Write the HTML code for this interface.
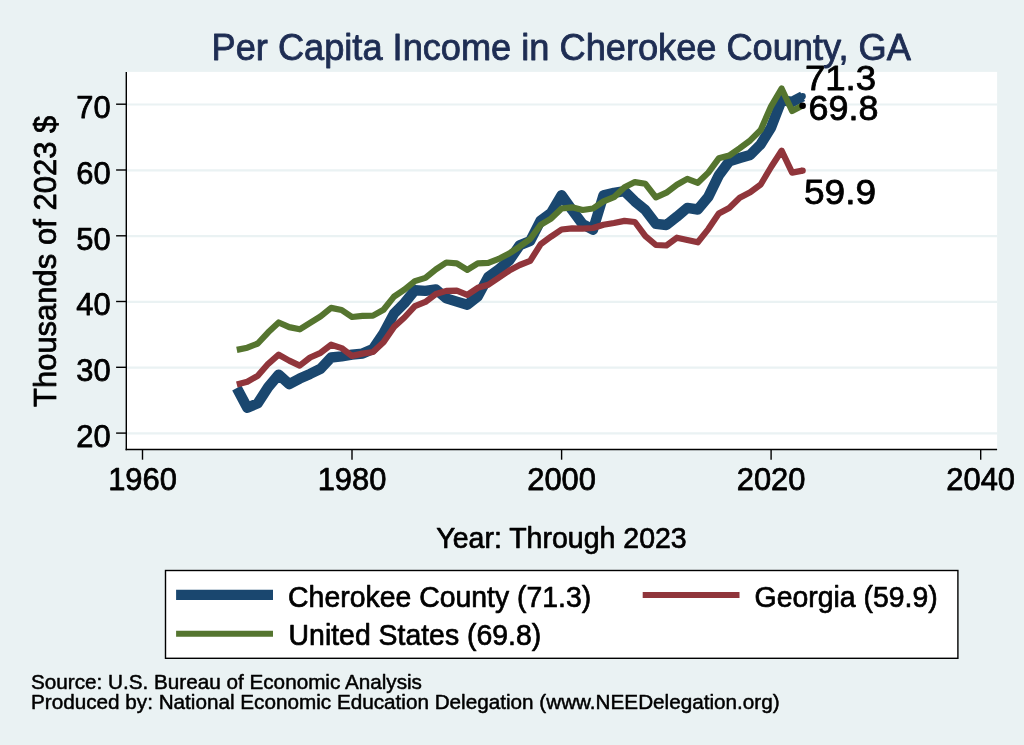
<!DOCTYPE html>
<html lang="en"><head><meta charset="utf-8"><title>Per Capita Income in Cherokee County, GA</title>
<style>
html,body{margin:0;padding:0;background:#eaf2f3;}
body{width:1024px;height:745px;overflow:hidden;}
svg{display:block;will-change:transform;}
text{font-family:"Liberation Sans",Arial,Helvetica,sans-serif;fill:#000;stroke:#000;stroke-width:0.75px;stroke-linejoin:round;}
.t{fill:#1e2d53;stroke:#1e2d53;stroke-width:0.85px;}
.m{stroke-width:0.8px;}
.n{stroke-width:0.5px;}
.l{stroke-width:0.7px;}
</style></head><body>
<svg width="1024" height="745" viewBox="0 0 1024 745">
<rect x="0" y="0" width="1024" height="745" fill="#eaf2f3"/>
<rect x="126.3" y="71.9" width="870.8" height="377.6" fill="#ffffff"/>

<line x1="126.3" x2="997.1" y1="433.4" y2="433.4" stroke="#eaf2f3" stroke-width="2.2"/>
<line x1="126.3" x2="997.1" y1="367.6" y2="367.6" stroke="#eaf2f3" stroke-width="2.2"/>
<line x1="126.3" x2="997.1" y1="301.8" y2="301.8" stroke="#eaf2f3" stroke-width="2.2"/>
<line x1="126.3" x2="997.1" y1="236.1" y2="236.1" stroke="#eaf2f3" stroke-width="2.2"/>
<line x1="126.3" x2="997.1" y1="170.3" y2="170.3" stroke="#eaf2f3" stroke-width="2.2"/>
<line x1="126.3" x2="997.1" y1="104.5" y2="104.5" stroke="#eaf2f3" stroke-width="2.2"/>
<polyline points="236.8,388.0 247.3,407.8 257.8,403.2 268.2,387.2 278.7,374.7 289.2,384.1 299.7,378.6 310.1,373.9 320.6,368.8 331.1,357.5 341.6,356.4 352.0,354.7 362.5,353.6 373.0,348.9 383.5,333.4 394.0,313.6 404.4,303.1 414.9,290.2 425.4,290.9 435.9,289.4 446.3,298.4 456.8,301.6 467.3,304.7 477.8,296.4 488.3,276.9 498.7,269.4 509.2,260.5 519.7,245.3 530.2,241.0 540.6,220.6 551.1,212.9 561.6,195.2 572.1,210.0 582.6,224.1 593.0,229.7 603.5,195.2 614.0,192.8 624.5,191.2 634.9,201.4 645.4,210.1 655.9,223.9 666.4,225.0 676.9,216.7 687.3,207.9 697.8,209.5 708.3,196.9 718.8,175.4 729.2,161.4 739.7,158.0 750.2,154.9 760.7,144.3 771.1,127.4 781.6,100.1 792.1,101.9 802.6,96.3" fill="none" stroke="#1a476f" stroke-width="10.4" stroke-linejoin="round" stroke-linecap="butt"/>
<polyline points="236.8,384.4 247.3,381.7 257.8,375.8 268.2,363.8 278.7,354.7 289.2,360.6 299.7,365.6 310.1,357.5 320.6,352.8 331.1,344.7 341.6,348.1 352.0,355.9 362.5,353.6 373.0,352.0 383.5,342.3 394.0,326.9 404.4,317.5 414.9,306.1 425.4,301.9 435.9,294.0 446.3,290.9 456.8,290.6 467.3,294.8 477.8,287.8 488.3,284.7 498.7,277.7 509.2,270.6 519.7,265.0 530.2,260.8 540.6,244.3 551.1,236.6 561.6,229.5 572.1,228.3 582.6,228.7 593.0,228.0 603.5,224.8 614.0,223.0 624.5,220.9 634.9,222.0 645.4,236.1 655.9,245.0 666.4,245.5 676.9,237.7 687.3,240.0 697.8,242.3 708.3,229.1 718.8,213.5 729.2,207.9 739.7,197.8 750.2,192.3 760.7,184.5 771.1,167.0 781.6,150.7 792.1,172.6 802.6,170.6" fill="none" stroke="#90353b" stroke-width="6.2" stroke-linejoin="round" stroke-linecap="butt"/>
<polyline points="236.8,349.9 247.3,347.7 257.8,343.5 268.2,332.3 278.7,322.5 289.2,327.1 299.7,329.3 310.1,322.9 320.6,316.3 331.1,307.9 341.6,310.0 352.0,317.0 362.5,315.9 373.0,315.6 383.5,309.8 394.0,296.6 404.4,289.7 414.9,281.1 425.4,277.9 435.9,269.3 446.3,262.5 456.8,263.3 467.3,269.8 477.8,263.3 488.3,262.8 498.7,258.9 509.2,253.5 519.7,246.6 530.2,239.0 540.6,224.8 551.1,218.6 561.6,208.5 572.1,207.3 582.6,210.0 593.0,208.5 603.5,201.4 614.0,197.2 624.5,187.3 634.9,182.1 645.4,183.8 655.9,197.3 666.4,192.7 676.9,184.8 687.3,178.9 697.8,182.8 708.3,172.6 718.8,158.3 729.2,155.6 739.7,148.3 750.2,140.4 760.7,130.0 771.1,106.3 781.6,88.5 792.1,111.0 802.6,105.5" fill="none" stroke="#55752f" stroke-width="6.2" stroke-linejoin="round" stroke-linecap="butt"/>
<circle cx="802.6" cy="96.3" r="3.2" fill="#1a476f"/>
<circle cx="802.6" cy="170.6" r="3.2" fill="#90353b"/>
<circle cx="802.6" cy="105.7" r="3.3" fill="#000"/>
<line x1="126.3" x2="126.3" y1="71.9" y2="450.2" stroke="#000" stroke-width="1.4"/>
<line x1="125.6" x2="997.1" y1="449.5" y2="449.5" stroke="#000" stroke-width="1.4"/>
<line x1="116.1" x2="126.3" y1="433.1" y2="433.1" stroke="#000" stroke-width="1.4"/>
<text x="110.6" y="446.8" font-size="30.9" text-anchor="end">20</text>
<line x1="116.1" x2="126.3" y1="367.3" y2="367.3" stroke="#000" stroke-width="1.4"/>
<text x="110.6" y="381.0" font-size="30.9" text-anchor="end">30</text>
<line x1="116.1" x2="126.3" y1="301.5" y2="301.5" stroke="#000" stroke-width="1.4"/>
<text x="110.6" y="315.2" font-size="30.9" text-anchor="end">40</text>
<line x1="116.1" x2="126.3" y1="235.8" y2="235.8" stroke="#000" stroke-width="1.4"/>
<text x="110.6" y="249.5" font-size="30.9" text-anchor="end">50</text>
<line x1="116.1" x2="126.3" y1="170.0" y2="170.0" stroke="#000" stroke-width="1.4"/>
<text x="110.6" y="183.7" font-size="30.9" text-anchor="end">60</text>
<line x1="116.1" x2="126.3" y1="104.2" y2="104.2" stroke="#000" stroke-width="1.4"/>
<text x="110.6" y="117.9" font-size="30.9" text-anchor="end">70</text>
<line x1="142.5" x2="142.5" y1="449.5" y2="459.7" stroke="#000" stroke-width="1.4"/>
<text x="142.5" y="489.8" font-size="30.9" text-anchor="middle">1960</text>
<line x1="352.0" x2="352.0" y1="449.5" y2="459.7" stroke="#000" stroke-width="1.4"/>
<text x="352.0" y="489.8" font-size="30.9" text-anchor="middle">1980</text>
<line x1="561.6" x2="561.6" y1="449.5" y2="459.7" stroke="#000" stroke-width="1.4"/>
<text x="561.6" y="489.8" font-size="30.9" text-anchor="middle">2000</text>
<line x1="771.1" x2="771.1" y1="449.5" y2="459.7" stroke="#000" stroke-width="1.4"/>
<text x="771.1" y="489.8" font-size="30.9" text-anchor="middle">2020</text>
<line x1="980.7" x2="980.7" y1="449.5" y2="459.7" stroke="#000" stroke-width="1.4"/>
<text x="980.7" y="489.8" font-size="30.9" text-anchor="middle">2040</text>
<text x="561.2" y="59.5" font-size="36.2" text-anchor="middle" class="t">Per Capita Income in Cherokee County, GA</text>
<text x="561.5" y="548.2" font-size="29.2" class="l" text-anchor="middle" textLength="250.4" lengthAdjust="spacingAndGlyphs">Year: Through 2023</text>
<text transform="translate(55.8,261.4) rotate(-90)" font-size="31" text-anchor="middle">Thousands of 2023 $</text>
<text x="804.9" y="90.35" font-size="34.4" class="m" textLength="71.2" lengthAdjust="spacingAndGlyphs">71.3</text>
<text x="808.6" y="119.5" font-size="34.4" class="m" textLength="69.9" lengthAdjust="spacingAndGlyphs">69.8</text>
<text x="804.0" y="204.2" font-size="34.4" class="m" textLength="72.1" lengthAdjust="spacingAndGlyphs">59.9</text>
<rect x="165.5" y="570.5" width="792.4" height="87.8" fill="#fff" stroke="#000" stroke-width="1.4"/>
<line x1="176.1" x2="273" y1="594.9" y2="594.9" stroke="#1a476f" stroke-width="10.4"/>
<line x1="176.1" x2="273" y1="633.75" y2="633.75" stroke="#55752f" stroke-width="6.2"/>
<line x1="642.7" x2="739.5" y1="595" y2="595" stroke="#90353b" stroke-width="6.2"/>
<text x="288.1" y="606.8" font-size="29.2" class="l" text-anchor="start" textLength="303.1" lengthAdjust="spacingAndGlyphs">Cherokee County (71.3)</text>
<text x="288.6" y="644.5" font-size="29.2" class="l" text-anchor="start" textLength="252.6" lengthAdjust="spacingAndGlyphs">United States (69.8)</text>
<text x="754.6" y="606.8" font-size="29.2" class="l" text-anchor="start" textLength="183.1" lengthAdjust="spacingAndGlyphs">Georgia (59.9)</text>
<text x="31" y="689.1" font-size="20.7" class="n">Source: U.S. Bureau of Economic Analysis</text>
<text x="31" y="708.8" font-size="20.7" class="n">Produced by: National Economic Education Delegation (www.NEEDelegation.org)</text>
</svg>
</body></html>
